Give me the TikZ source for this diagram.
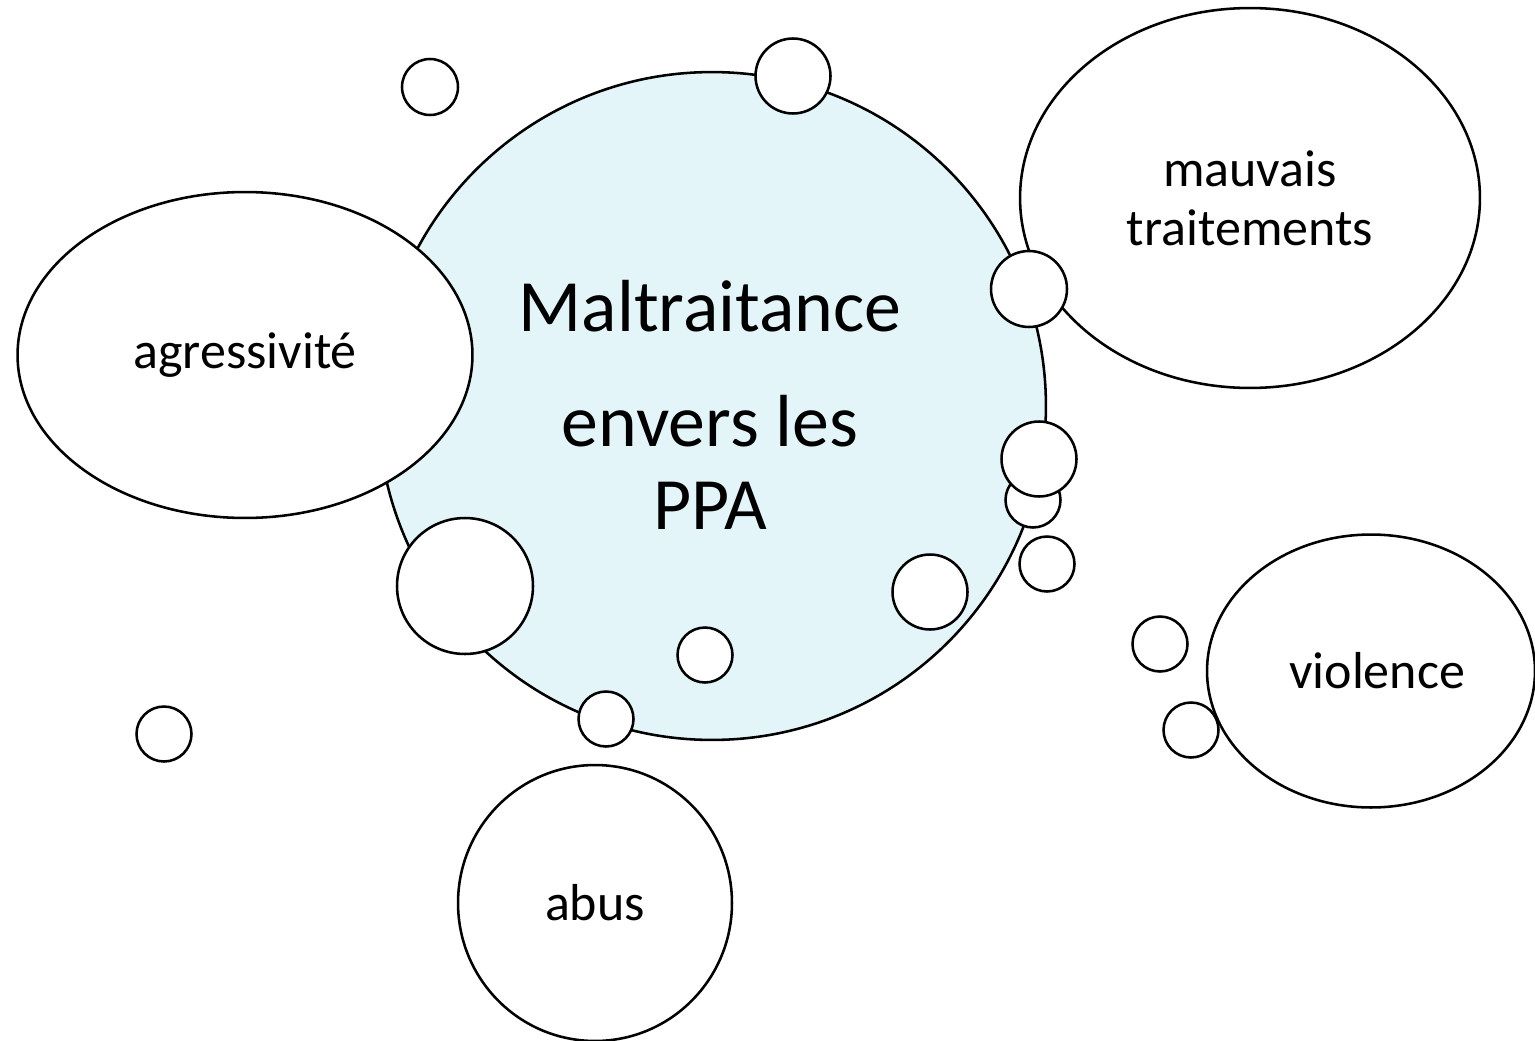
\documentclass[tikz,border=0pt]{standalone}
\usepackage{fontspec}
\setmainfont{Carlito}
\usetikzlibrary{shapes.geometric}
\definecolor{paleblue}{RGB}{228,245,250}

\begin{document}
\begin{tikzpicture}[x=0.02cm, y=-0.02cm, line width=1.45pt,
        bubble/.style={draw, fill=white, ellipse, inner sep=0pt, align=center, font=\fontsize{29.6}{33.6}\selectfont},
        dot/.style={draw, fill=white, circle, inner sep=0pt}]
        \useasboundingbox (0, 0) rectangle (1535, 1041);
        % central circle
        \node (main) at (712, 406) [circle, draw, fill=paleblue, inner sep=0pt, minimum size=13.36cm] {};
        \node (title) at (710, 405) [align=center, font=\fontsize{42}{47}\selectfont] {Maltraitance\\[18.5pt]envers les\\PPA};
        % word bubbles
        \node (agress) at (245, 355) [bubble, minimum width=9.1cm, minimum height=6.52cm] {agressivité};
        \node (mauvais) at (1250, 198) [bubble, minimum width=9.2cm, minimum height=7.6cm] {mauvais\\traitements};
        \node (violence) at (1371, 671) [bubble, minimum width=6.56cm, minimum height=5.46cm] {\hspace*{7pt}violence};
        \node (abus) at (595, 903) [bubble, minimum width=5.48cm, minimum height=5.52cm] {abus};
        % small circles
        \node (d1) at (430, 87) [dot, minimum size=1.12cm] {};
        \node (d2) at (793, 76) [dot, minimum size=1.5cm] {};
        \node (d3) at (1029, 289) [dot, minimum size=1.52cm] {};
        \node (d5) at (1033, 500) [dot, minimum size=1.1cm] {};
        \node (d4) at (1039, 459) [dot, minimum size=1.5cm] {};
        \node (d6) at (1047, 564) [dot, minimum size=1.1cm] {};
        \node (d7) at (930, 592) [dot, minimum size=1.5cm] {};
        \node (d8) at (465, 586) [dot, minimum size=2.72cm] {};
        \node (d9) at (705, 655) [dot, minimum size=1.1cm] {};
        \node (d10) at (606, 719) [dot, minimum size=1.1cm] {};
        \node (d11) at (164, 734) [dot, minimum size=1.1cm] {};
        \node (d12) at (1160, 644) [dot, minimum size=1.1cm] {};
        \node (d13) at (1191, 730) [dot, minimum size=1.1cm] {};
    \end{tikzpicture}
\end{document}
